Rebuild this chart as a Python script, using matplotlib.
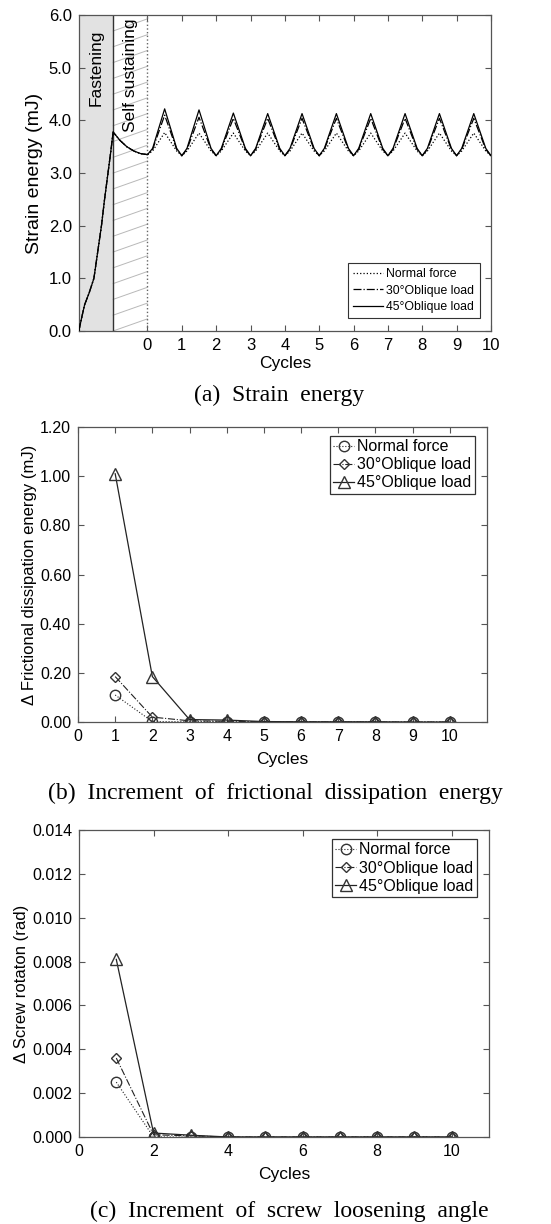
import numpy as np
import matplotlib
matplotlib.use('Agg')
import matplotlib.pyplot as plt

plt.rcParams['font.family'] = ['Liberation Sans', 'DejaVu Sans']

# ---- (a) strain energy ----
fasten_x = [-2.0, -1.9, -1.83, -1.7, -1.56, -1.45, -1.34, -1.25, -1.15, -1.07, -1.0]
fasten_y = [0.0, 0.3, 0.5, 0.72, 1.0, 1.5, 2.0, 2.5, 3.0, 3.4, 3.78]
sustain_x = [-1.0, -0.8, -0.6, -0.4, -0.2, 0.0]
sustain_y = [3.78, 3.62, 3.5, 3.42, 3.37, 3.35]

# each cycle: rise shoulder, peak, fall shoulder, trough
cycle_pos = [0.15, 0.5, 0.85, 1.0]
peak_normal = [3.77, 3.76, 3.76, 3.76, 3.76, 3.76, 3.76, 3.76, 3.76, 3.76]
peak_30 = [4.10, 4.06, 4.04, 4.04, 4.04, 4.04, 4.04, 4.04, 4.04, 4.04]
peak_45 = [4.22, 4.20, 4.14, 4.13, 4.13, 4.13, 4.13, 4.13, 4.13, 4.13]
shoulder_normal = [3.42] * 10
shoulder_30 = [3.45] * 10
shoulder_45 = [3.47] * 10
trough = [3.33] * 10

# ---- (b) frictional dissipation / (c) screw rotation ----
cycles = [1, 2, 3, 4, 5, 6, 7, 8, 9, 10]
fd_normal = [0.11, 0.002, 0.001, 0.001, 0.0, 0.0, 0.0, 0.0, 0.0, 0.0]
fd_30 = [0.185, 0.02, 0.005, 0.003, 0.001, 0.001, 0.0, 0.0, 0.0, 0.0]
fd_45 = [1.01, 0.185, 0.01, 0.008, 0.002, 0.001, 0.001, 0.001, 0.0, 0.0]
sr_normal = [0.0025, 0.0, 0.0, 0.0, 0.0, 0.0, 0.0, 0.0, 0.0, 0.0]
sr_30 = [0.0036, 0.0001, 0.00005, 0.0, 0.0, 0.0, 0.0, 0.0, 0.0, 0.0]
sr_45 = [0.0081, 0.00018, 0.00008, 0.0, 0.0, 0.0, 0.0, 0.0, 0.0, 0.0]

labels = ['Normal force', '30°Oblique load', '45°Oblique load']
spine_c = '#555555'

fig = plt.figure(figsize=(5.51, 12.24), dpi=100)


def style(ax, fs):
    for s in ax.spines.values():
        s.set_color(spine_c)
        s.set_linewidth(0.9)
    ax.tick_params(direction='in', top=True, right=True, length=4,
                   color=spine_c, labelsize=fs, pad=5)


def cycle_series(peaks, shoulders):
    xs, ys = [], []
    for n in range(10):
        xs += [n + p for p in cycle_pos]
        ys += [shoulders[n], peaks[n], shoulders[n], trough[n]]
    return xs, ys


# (a)
ax1 = fig.add_axes([0.143, 0.7296, 0.748, 0.258])
ax1.axvspan(-2, -1, color='#e2e2e2', lw=0)
# shallow hatching of the self-sustaining band
for y0 in np.arange(-0.3, 6.0, 0.3):
    ax1.plot([-1, 0], [y0, y0 + 0.23], color='#b8b8b8', lw=0.7, zorder=1)
ax1.axvline(-1, color='#333333', lw=1.0)
ax1.axvline(0, color='#666666', lw=1.0, ls=':')
ax1.text(-1.5, 5.0, 'Fastening', rotation=90, ha='center', va='center', fontsize=12.5)
ax1.text(-0.5, 4.85, 'Self sustaining', rotation=90, ha='center', va='center', fontsize=12.5)
for ls, pk, sh, lab in [(':', peak_normal, shoulder_normal, labels[0]),
                        ('-.', peak_30, shoulder_30, labels[1]),
                        ('-', peak_45, shoulder_45, labels[2])]:
    cx, cy = cycle_series(pk, sh)
    xs = np.concatenate([fasten_x, sustain_x[1:], cx])
    yv = np.concatenate([fasten_y, sustain_y[1:], cy])
    ax1.plot(xs, yv, color='black', ls=ls, lw=0.9, label=lab, zorder=3)
ax1.set_xlim(-2, 10)
ax1.set_ylim(0, 6)
ax1.set_xticks(range(0, 11))
ax1.set_yticks(np.arange(0, 6.01, 1.0))
ax1.set_yticklabels(['%.1f' % v for v in np.arange(0, 6.01, 1.0)])
ax1.set_xlabel('Cycles', fontsize=12.5, labelpad=2)
ax1.set_ylabel('Strain energy (mJ)', fontsize=14, labelpad=4)
style(ax1, 12)
leg = ax1.legend(loc='lower right', fontsize=8.8, handlelength=2.4, fancybox=False,
                 edgecolor='#333333', framealpha=1, borderpad=0.45, labelspacing=0.35,
                 handletextpad=0.3, borderaxespad=0, bbox_to_anchor=(0.973, 0.04))
leg.get_frame().set_linewidth(0.8)
fig.text(0.507, 0.677, '(a)  Strain  energy', ha='center', va='center',
         fontsize=17, family='Liberation Serif')


def marker_plot(ax, s1, s2, s3):
    ax.plot(cycles, s1, color='#222222', ls=':', lw=0.8, marker='o', mfc='none',
            mec='#333333', ms=7.5, label=labels[0])
    ax.plot(cycles, s2, color='#222222', ls='-.', lw=0.8, marker='D', mfc='none',
            mec='#333333', ms=5.5, label=labels[1])
    ax.plot(cycles, s3, color='#222222', ls='-', lw=0.9, marker='^', mfc='none',
            mec='#333333', ms=8.5, label=labels[2])
    lg = ax.legend(loc='upper right', fontsize=11.5, handlelength=1.3, fancybox=False,
                   edgecolor='#333333', framealpha=1, borderpad=0.2, labelspacing=0.2,
                   handletextpad=0.2, borderaxespad=0, bbox_to_anchor=(0.97, 0.97))
    lg.get_frame().set_linewidth(0.9)


# (b)
ax2 = fig.add_axes([0.1416, 0.4101, 0.742, 0.241])
marker_plot(ax2, fd_normal, fd_30, fd_45)
ax2.set_xlim(0, 11)
ax2.set_ylim(0, 1.2)
ax2.set_xticks(range(0, 11))
ax2.set_yticks(np.arange(0, 1.201, 0.2))
ax2.set_yticklabels(['%.2f' % v for v in np.arange(0, 1.201, 0.2)])
ax2.set_xlabel('Cycles', fontsize=12.5, labelpad=6)
ax2.set_ylabel('Δ Frictional dissipation energy (mJ)', fontsize=12, labelpad=2)
style(ax2, 11.5)
fig.text(0.5, 0.352, '(b)  Increment  of  frictional  dissipation  energy', ha='center',
         va='center', fontsize=17, family='Liberation Serif')

# (c)
ax3 = fig.add_axes([0.1434, 0.0711, 0.744, 0.2508])
marker_plot(ax3, sr_normal, sr_30, sr_45)
ax3.set_xlim(0, 11)
ax3.set_ylim(0, 0.014)
ax3.set_xticks(range(0, 11, 2))
ax3.set_yticks(np.arange(0, 0.01401, 0.002))
ax3.set_yticklabels(['%.3f' % v for v in np.arange(0, 0.01401, 0.002)])
ax3.set_xlabel('Cycles', fontsize=12.5, labelpad=6)
ax3.set_ylabel('Δ Screw rotaton (rad)', fontsize=12, labelpad=2)
style(ax3, 11.5)
fig.text(0.525, 0.01, '(c)  Increment  of  screw  loosening  angle', ha='center',
         va='center', fontsize=17, family='Liberation Serif')

fig.savefig('out.png', dpi=100, facecolor='w')
